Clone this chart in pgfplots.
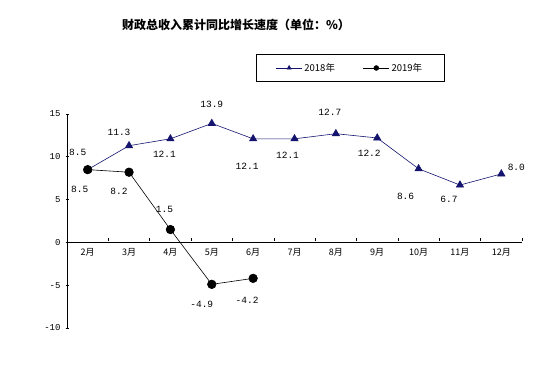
\documentclass[border=0pt]{standalone}
\usepackage{pgfplots}
\pgfplotsset{compat=1.18}
\usepackage{fontspec}
\setmainfont{Noto Sans CJK SC}
\newfontfamily\monofont{Liberation Mono}
\definecolor{navyA}{RGB}{20,20,110}
\begin{document}
\begin{tikzpicture}
\path[use as bounding box] (0pt,0pt) rectangle (548pt,377pt);
\node[font=\bfseries\fontsize{12}{13}\selectfont] at (236pt,352pt) {财政总收入累计同比增长速度（单位：\%）};
\begin{axis}[
  at={(67pt,49pt)}, anchor=south west,
  scale only axis, width=455pt, height=214pt,
  xmin=0, xmax=11, ymin=-10, ymax=15,
  axis x line*=middle, axis y line*=left,
  axis line style={black, line width=0.8pt},
  xtick={0.5,1.5,...,10.5},
  xticklabels={2月,3月,4月,5月,6月,7月,8月,9月,10月,11月,12月},
  minor xtick={0,1,...,11},
  major x tick style={draw=none},
  minor x tick style={black, line width=0.6pt, yshift=1.5pt},
  minor tick length=3pt,
  ytick={-10,-5,...,15},
  major y tick style={black, line width=0.6pt, xshift=-1.5pt},
  major tick length=3pt,
  tick align=inside,
  /pgf/number format/assume math mode=true,
  ticklabel style={font=\fontsize{9}{10}\selectfont},
  yticklabel style={xshift=-3pt, font=\monofont\fontsize{9}{10}\selectfont},
  xticklabel style={yshift=-2pt},
  clip=false,
  legend style={at={(0.622,1.215)}, anchor=center, draw=black, line width=0.6pt,
    font=\fontsize{9.5}{10}\selectfont, inner xsep=20pt, inner ysep=7pt,
    /tikz/every even column/.append style={column sep=26pt}},
  legend columns=2,
  legend image code/.code={\draw[mark repeat=2,mark phase=2,mark size=2.4pt] plot coordinates {(0pt,0pt)(13pt,0pt)(26pt,0pt)};},
]
\addplot[color=navyA, line width=0.6pt, mark=triangle*, mark size=4.2pt,
  mark options={fill=navyA, draw=navyA}]
  coordinates {(0.5,8.5)(1.5,11.3)(2.5,12.1)(3.5,13.9)(4.5,12.1)(5.5,12.1)(6.5,12.7)(7.5,12.2)(8.5,8.6)(9.5,6.7)(10.5,8.0)};
\addlegendentry{2018年}
\addplot[color=black, line width=0.6pt, mark=*, mark size=4.3pt,
  mark options={fill=black}]
  coordinates {(0.5,8.5)(1.5,8.2)(2.5,1.5)(3.5,-4.9)(4.5,-4.2)};
\addlegendentry{2019年}
\def\lf{\monofont\fontsize{9.5}{10}\selectfont}
\node[font=\lf] at (axis cs:0.5,8.5) [xshift=-10pt,yshift=17pt] {8.5};
\node[font=\lf] at (axis cs:1.5,11.3) [xshift=-10pt,yshift=13pt] {11.3};
\node[font=\lf] at (axis cs:2.5,12.1) [xshift=-6pt,yshift=-15pt] {12.1};
\node[font=\lf] at (axis cs:3.5,13.9) [xshift=0pt,yshift=19pt] {13.9};
\node[font=\lf] at (axis cs:4.5,12.1) [xshift=-6pt,yshift=-27pt] {12.1};
\node[font=\lf] at (axis cs:5.5,12.1) [xshift=-7pt,yshift=-17pt] {12.1};
\node[font=\lf] at (axis cs:6.5,12.7) [xshift=-6pt,yshift=21pt] {12.7};
\node[font=\lf] at (axis cs:7.5,12.2) [xshift=-8pt,yshift=-15pt] {12.2};
\node[font=\lf] at (axis cs:8.5,8.6) [xshift=-13pt,yshift=-28pt] {8.6};
\node[font=\lf] at (axis cs:9.5,6.7) [xshift=-11pt,yshift=-14pt] {6.7};
\node[font=\lf] at (axis cs:10.5,8.0) [xshift=15pt,yshift=7pt] {8.0};
\node[font=\lf] at (axis cs:0.5,8.5) [xshift=-8pt,yshift=-20pt] {8.5};
\node[font=\lf] at (axis cs:1.5,8.2) [xshift=-10pt,yshift=-19pt] {8.2};
\node[font=\lf] at (axis cs:2.5,1.5) [xshift=-6pt,yshift=20pt] {1.5};
\node[font=\lf] at (axis cs:3.5,-4.9) [xshift=-10pt,yshift=-20pt] {-4.9};
\node[font=\lf] at (axis cs:4.5,-4.2) [xshift=-6pt,yshift=-22pt] {-4.2};
\end{axis}
\end{tikzpicture}
\end{document}
